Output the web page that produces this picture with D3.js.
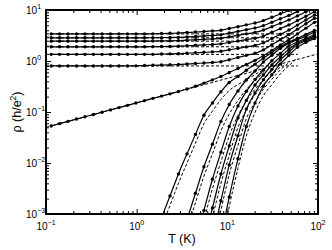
<!DOCTYPE html>
<html lang="en">
<head>
<meta charset="UTF-8">
<title>rho vs T</title>
<script src="https://cdn.jsdelivr.net/npm/d3@7"></script>
<style>
  body { margin: 0; background: #fff; }
  text { font-family: "Liberation Sans", Arial, sans-serif; fill: #000; }
</style>
</head>
<body>
<script>
// temperatures of the measured points (K)
const T = [0.114, 0.141, 0.175, 0.217, 0.269, 0.334, 0.415, 0.514, 0.638, 0.792,
  0.982, 1.22, 1.51, 1.88, 2.33, 2.89, 3.59, 4.45, 5.52, 6.85,
  8.50, 10.5, 13.1, 16.2, 20.2, 25.0, 31.0, 38.5, 47.8, 59.3, 73.5, 91.3];

// metallic samples (rho in h/e^2)
const M1 = [3.40, 3.40, 3.40, 3.40, 3.40, 3.40, 3.40, 3.40, 3.40, 3.40, 3.40, 3.40,
  3.41, 3.45, 3.49, 3.53, 3.61, 3.70, 3.79, 3.88, 4.00, 4.34, 4.71, 5.11, 5.55, 6.20, 7.22, 8.42, 9.82, 11.6, 13.6, 16.1];
const M2 = [2.85, 2.85, 2.85, 2.85, 2.85, 2.85, 2.85, 2.85, 2.85, 2.85, 2.85, 2.85,
  2.86, 2.87, 2.89, 2.91, 2.97, 3.03, 3.10, 3.17, 3.26, 3.53, 3.81, 4.11, 4.44, 4.94, 5.77, 6.72, 7.84, 9.34, 11.2, 13.3];
const M3 = [2.45, 2.45, 2.45, 2.45, 2.45, 2.45, 2.45, 2.45, 2.45, 2.45, 2.45, 2.45,
  2.46, 2.48, 2.49, 2.51, 2.56, 2.61, 2.66, 2.71, 2.78, 2.98, 3.18, 3.41, 3.64, 4.04, 4.71, 5.49, 6.40, 7.67, 9.22, 11.1];
const M4 = [1.90, 1.90, 1.90, 1.90, 1.90, 1.90, 1.90, 1.90, 1.90, 1.90, 1.90, 1.90,
  1.91, 1.92, 1.93, 1.95, 1.99, 2.03, 2.07, 2.11, 2.17, 2.31, 2.46, 2.62, 2.79, 3.09, 3.65, 4.31, 5.10, 6.19, 7.55, 9.22];
const M5 = [1.35, 1.35, 1.35, 1.35, 1.35, 1.35, 1.35, 1.35, 1.35, 1.35, 1.35, 1.35,
  1.35, 1.37, 1.38, 1.39, 1.42, 1.45, 1.48, 1.51, 1.55, 1.66, 1.77, 1.89, 2.02, 2.28, 2.76, 3.35, 4.05, 5.06, 6.35, 7.96];
const M6 = [0.80, 0.80, 0.80, 0.80, 0.80, 0.80, 0.80, 0.80, 0.80, 0.80, 0.804, 0.814,
  0.823, 0.833, 0.842, 0.852, 0.871, 0.892, 0.914, 0.936, 0.967, 1.06, 1.17, 1.29, 1.42, 1.65, 2.08, 2.62, 3.29, 4.21, 5.38, 6.89];

// critical sample
const C = [0.0533, 0.0591, 0.0655, 0.0727, 0.0806, 0.0894, 0.0992, 0.110, 0.122, 0.135,
  0.150, 0.167, 0.185, 0.205, 0.227, 0.252, 0.282, 0.319, 0.369, 0.427,
  0.497, 0.595, 0.714, 0.857, 1.03, 1.27, 1.61, 2.06, 2.62, 3.40, 4.41, 5.72];

// insulating samples (null = below the plotted range)
const n = null;
const I1 = [n, n, n, n, n, n, n, n, n, n, n, n, n,
  0.00084, 0.00226, 0.00611, 0.0151, 0.0364, 0.0864, 0.150, 0.250, 0.379, 0.499, 0.658, 0.867, 1.13, 1.47, 1.91, 2.34, 2.80, 3.33, 3.95];
const I2 = [n, n, n, n, n, n, n, n, n, n, n, n, n, n, n, n,
  0.000773, 0.00255, 0.00842, 0.0233, 0.0655, 0.1405, 0.258, 0.424, 0.637, 0.956, 1.30, 1.78, 2.24, 2.62, 3.08, 3.66];
const I3 = [n, n, n, n, n, n, n, n, n, n, n, n, n, n, n, n, n,
  0.000289, 0.00118, 0.00481, 0.0163, 0.052, 0.131, 0.254, 0.433, 0.668, 1.01, 1.41, 1.96, 2.36, 2.78, 3.28];
const I4 = [n, n, n, n, n, n, n, n, n, n, n, n, n, n, n, n, n, n,
  0.000282, 0.00131, 0.00608, 0.0217, 0.0765, 0.169, 0.338, 0.532, 0.837, 1.21, 1.71, 2.22, 2.62, 3.09];
const I5 = [n, n, n, n, n, n, n, n, n, n, n, n, n, n, n, n, n, n, n,
  0.000335, 0.00182, 0.00918, 0.0342, 0.114, 0.236, 0.429, 0.686, 1.06, 1.50, 2.10, 2.48, 2.93];
const I6 = [n, n, n, n, n, n, n, n, n, n, n, n, n, n, n, n, n, n, n, n,
  0.00033, 0.00216, 0.0121, 0.052, 0.150, 0.324, 0.536, 0.877, 1.29, 1.85, 2.32, 2.75];

// fits (dashed)
const metalFit = [3.40, 2.85, 2.45, 1.90, 1.35, 0.80];
const metalFitT = [0.1, 60];
const critFit = [[0.1, 0.05], [100, 1.38]];
const I1fit = [n, n, n, n, n, n, n, n, n, n, n, n, n,
  0.00055, 0.00147, 0.0040, 0.0100, 0.0245, 0.059, 0.104, 0.175, 0.265, 0.345, 0.428, 0.54, 0.68];
const I2fit = [n, n, n, n, n, n, n, n, n, n, n, n, n, n, n, n,
  0.0005, 0.00166, 0.0055, 0.0151, 0.0426, 0.091, 0.168, 0.276, 0.41, 0.60];
const I3fit = [n, n, n, n, n, n, n, n, n, n, n, n, n, n, n, n, n,
  0.00019, 0.00077, 0.0031, 0.0106, 0.034, 0.085, 0.165, 0.28, 0.43, 0.64];
const I4fit = [n, n, n, n, n, n, n, n, n, n, n, n, n, n, n, n, n, n,
  0.00018, 0.00085, 0.0040, 0.0141, 0.050, 0.110, 0.22, 0.345, 0.53, 0.76];
const I5fit = [n, n, n, n, n, n, n, n, n, n, n, n, n, n, n, n, n, n, n,
  0.00022, 0.00118, 0.0060, 0.0222, 0.074, 0.153, 0.279, 0.44, 0.67, 0.93];
const I6fit = [n, n, n, n, n, n, n, n, n, n, n, n, n, n, n, n, n, n, n, n,
  0.00021, 0.0014, 0.0079, 0.034, 0.098, 0.21, 0.345, 0.56, 0.81, 1.14];

const xTicks = [-1, 0, 1, 2];
const yTicks = [-3, -2, -1, 0, 1];

const W = 332, H = 250;
const pL = 46, pR = 318, pT = 10, pB = 214;

const x = d3.scaleLog().domain([0.1, 100]).range([pL, pR]);
const y = d3.scaleLog().domain([1e-3, 10]).range([pB, pT]);

const svg = d3.select("body").append("svg")
  .attr("width", W).attr("height", H);

svg.append("defs").append("clipPath").attr("id", "clip")
  .append("rect").attr("x", pL).attr("y", pT)
  .attr("width", pR - pL).attr("height", pB - pT);

// ticks: majors and minors, pointing inwards on all sides
function minors(lo, hi) {
  const out = [];
  for (let e = lo; e < hi; e++) for (let k = 2; k <= 9; k++) out.push(k * Math.pow(10, e));
  return out;
}
const xMaj = xTicks.map(e => Math.pow(10, e));
const yMaj = yTicks.map(e => Math.pow(10, e));

function addAxis(axisFn, scale, vals, size, tx, ty) {
  svg.append("g").attr("transform", `translate(${tx},${ty})`)
    .call(axisFn(scale).tickValues(vals).tickSize(-size).tickFormat(""))
    .call(g => g.select(".domain").remove())
    .selectAll("line").attr("stroke", "#000").attr("stroke-width", 1);
}
addAxis(d3.axisBottom, x, xMaj, 5, 0, pB);
addAxis(d3.axisBottom, x, minors(-1, 2), 3, 0, pB);
addAxis(d3.axisTop, x, xMaj, 5, 0, pT);
addAxis(d3.axisTop, x, minors(-1, 2), 3, 0, pT);
addAxis(d3.axisLeft, y, yMaj, 5, pL, 0);
addAxis(d3.axisLeft, y, minors(-3, 1), 3, pL, 0);
addAxis(d3.axisRight, y, yMaj, 5, pR, 0);
addAxis(d3.axisRight, y, minors(-3, 1), 3, pR, 0);

const plot = svg.append("g").attr("clip-path", "url(#clip)");

const line = d3.line()
  .defined(d => d[1] != null)
  .x(d => x(d[0])).y(d => y(d[1]))
  .curve(d3.curveMonotoneX);

// dashed fits
const dashed = [];
metalFit.forEach(v => dashed.push(metalFitT.map(t => [t, v])));
dashed.push(critFit);
[I1fit, I2fit, I3fit, I4fit, I5fit, I6fit].forEach(s => dashed.push(T.map((t, i) => [t, s[i]]).filter(d => d[1] != null)));

plot.selectAll("path.fit").data(dashed).enter().append("path")
  .attr("class", "fit")
  .attr("d", line)
  .attr("fill", "none").attr("stroke", "#000")
  .attr("stroke-width", 1).attr("stroke-dasharray", "3,2");

// measured curves
const series = [M1, M2, M3, M4, M5, M6, C, I1, I2, I3, I4, I5, I6]
  .map(s => T.map((t, i) => [t, s[i]]).filter(d => d[1] != null));

plot.selectAll("path.data").data(series).enter().append("path")
  .attr("class", "data")
  .attr("d", line)
  .attr("fill", "none").attr("stroke", "#000").attr("stroke-width", 1.2);

plot.selectAll("g.pts").data(series).enter().append("g")
  .selectAll("circle").data(d => d).enter().append("circle")
  .attr("cx", d => x(d[0])).attr("cy", d => y(d[1]))
  .attr("r", 1.7).attr("fill", "#000");

// frame
svg.append("rect")
  .attr("x", pL).attr("y", pT)
  .attr("width", pR - pL).attr("height", pB - pT)
  .attr("fill", "none").attr("stroke", "#000").attr("stroke-width", 2);

// tick labels 10^n
yTicks.forEach(e => {
  const t = svg.append("text").attr("x", 26).attr("y", y(Math.pow(10, e)) + 4)
    .attr("font-size", 10);
  t.append("tspan").text("10");
  t.append("tspan").attr("dy", -5).attr("font-size", 7).text(e < 0 ? "\u2212" + (-e) : e);
});
xTicks.forEach(e => {
  const t = svg.append("text").attr("x", x(Math.pow(10, e))).attr("y", 230)
    .attr("font-size", 10).attr("text-anchor", "middle");
  t.append("tspan").text("10");
  t.append("tspan").attr("dy", -5).attr("font-size", 7).text(e < 0 ? "\u2212" + (-e) : e);
});

// axis titles
svg.append("text").attr("x", (pL + pR) / 2).attr("y", 243)
  .attr("text-anchor", "middle").attr("font-size", 12.5).text("T (K)");

const yl = svg.append("text")
  .attr("transform", `translate(21,${(pT + pB) / 2}) rotate(-90)`)
  .attr("text-anchor", "middle").attr("font-size", 12.5);
yl.append("tspan").text("\u03c1 (h/e");
yl.append("tspan").attr("dy", -5).attr("font-size", 8.5).text("2");
yl.append("tspan").attr("dy", 5).text(")");
</script>
</body>
</html>
